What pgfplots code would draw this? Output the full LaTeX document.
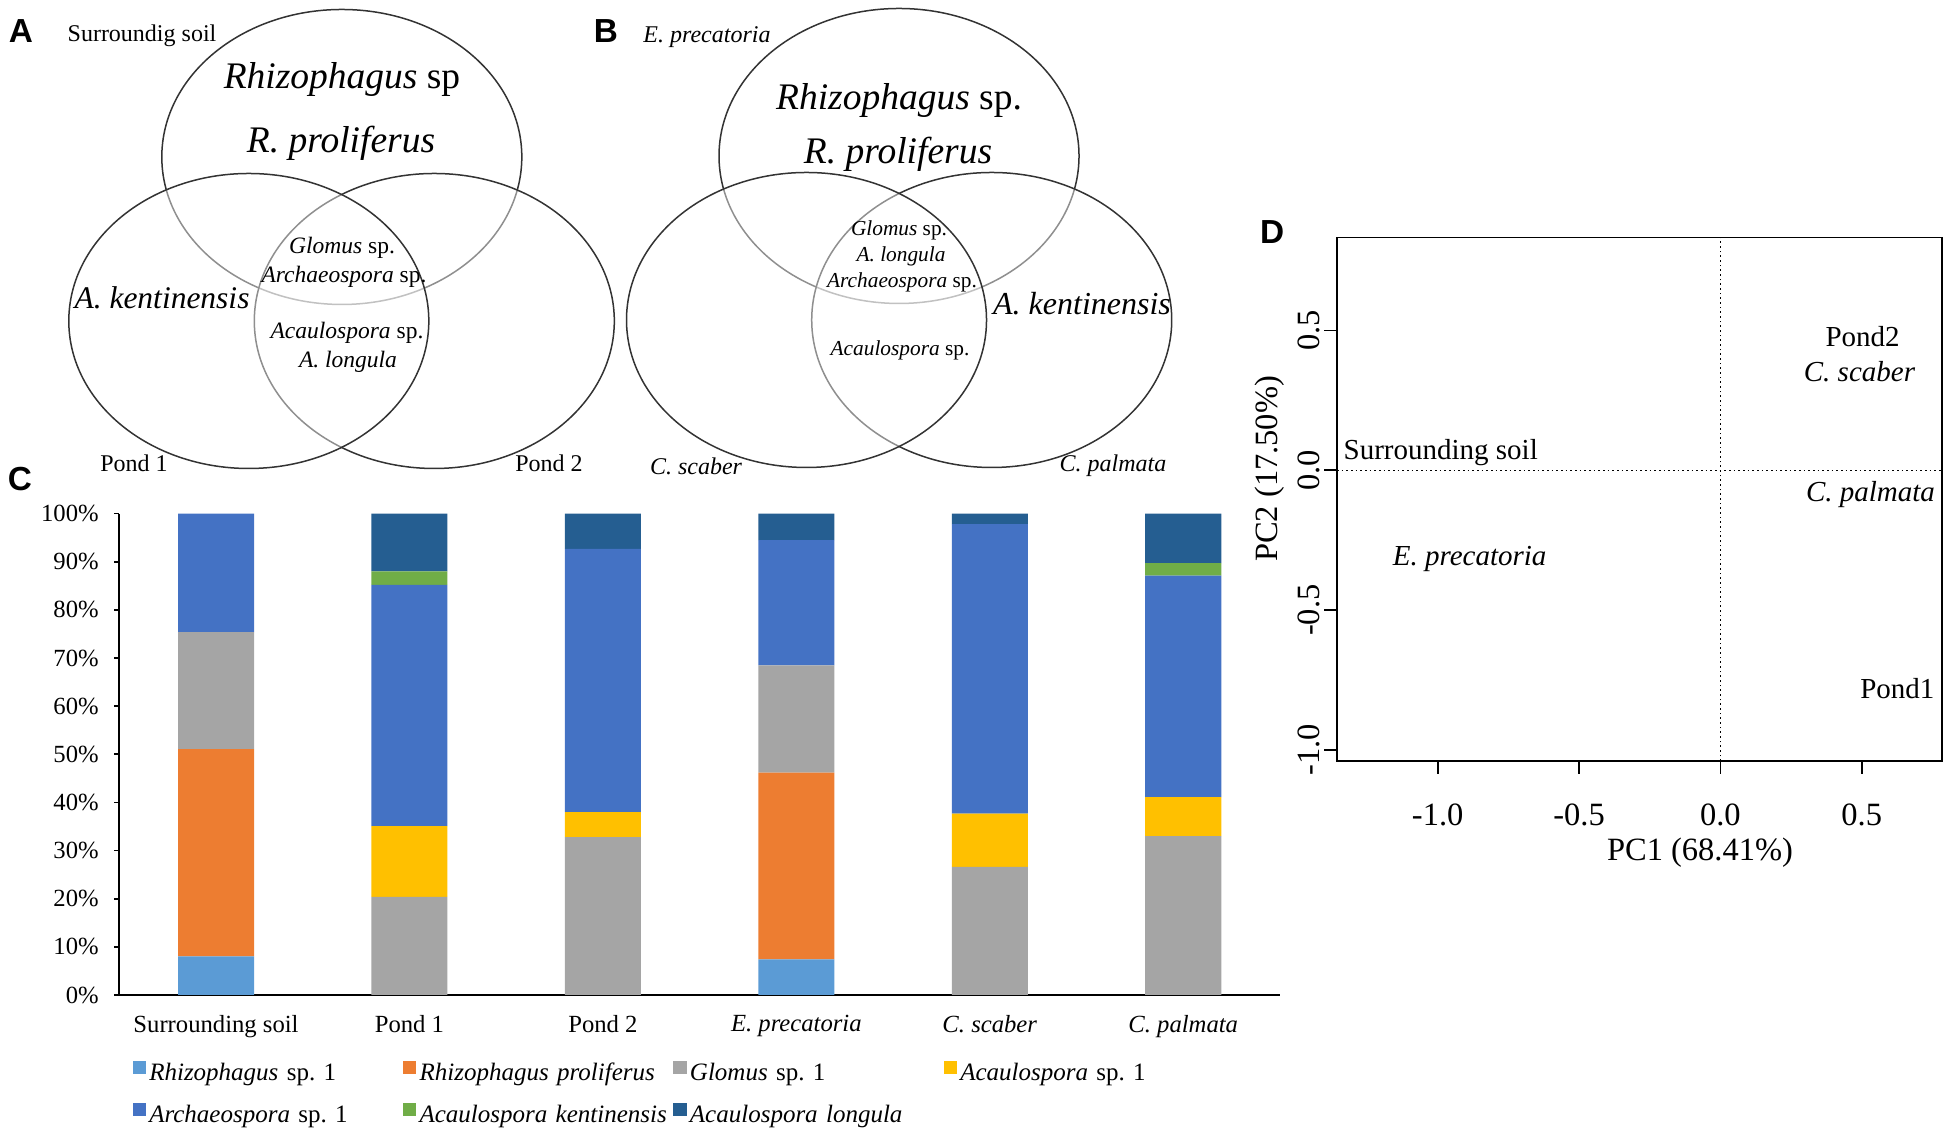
\documentclass[border=0pt]{standalone}
\usepackage{pgfplots}
\usepackage{pgfplotstable}
\pgfplotsset{compat=1.18}
\usepackage{fontspec}
\setmainfont{Liberation Serif}
\newfontfamily\arialfont{Liberation Sans}
\frenchspacing

\definecolor{cRsp}{HTML}{5B9BD5}
\definecolor{cRpro}{HTML}{ED7D31}
\definecolor{cGlo}{HTML}{A5A5A5}
\definecolor{cAca}{HTML}{FFC000}
\definecolor{cArc}{HTML}{4472C4}
\definecolor{cKen}{HTML}{70AD47}
\definecolor{cLon}{HTML}{255E91}
\definecolor{venn}{HTML}{333333}

\newcommand\fs[1]{\fontsize{#1}{#1}\selectfont}

% relative abundance (%) per sample, panel C
\pgfplotstableread{
x  rsp   rpro  glo   aca   arc   ken  lon
0  8.0   43.1  24.3  0.0   24.6  0.0  0.0
1  0.0   0.0   20.4  14.7  50.1  2.8  12.0
2  0.0   0.0   32.8  5.2   54.7  0.0  7.3
3  7.4   38.8  22.3  0.0   26.0  0.0  5.5
4  0.0   0.0   26.6  11.1  60.1  0.0  2.2
5  0.0   0.0   33.0  8.1   46.0  2.6  10.3
}\bars

\pgfplotsset{sq/.style={legend image code/.code={\fill[##1] (0pt,0.1pt) rectangle (4pt,4.1pt);}}}

\begin{document}
\begin{tikzpicture}
\useasboundingbox (0,0) rectangle (585pt,338.7pt);

% Venn diagrams (A, B), pixel coordinates from top left
\begin{scope}[x=0.3pt,y=-0.3pt,yshift=338.7pt]
  \tikzset{vc/.style={draw=venn,line width=0.45pt,fill=white,fill opacity=0.45}}
  % A
  \draw[vc] (341.8,157) ellipse (180 and 147.5);
  \draw[vc] (434.3,321) ellipse (180 and 147.5);
  \draw[vc] (248.8,321) ellipse (180 and 147.5);
  % B
  \draw[vc] (899,156) ellipse (180 and 147.5);
  \draw[vc] (991.7,320) ellipse (180 and 147.5);
  \draw[vc] (806.5,320) ellipse (180 and 147.5);

  \node[font=\fs{7.2}] at (142,36) {Surroundig soil};
  \node[font=\fs{11.25}] at (342,80) {\textit{Rhizophagus} sp};
  \node[font=\fs{11.25}\itshape] at (341,143) {R. proliferus};
  \node[font=\fs{7.05}] at (342,248) {\textit{Glomus} sp.};
  \node[font=\fs{7.05}] at (344,277) {\textit{Archaeospora} sp.};
  \node[font=\fs{9.45}\itshape] at (162,298) {A. kentinensis};
  \node[font=\fs{7.05}] at (347,333) {\textit{Acaulospora} sp.};
  \node[font=\fs{7.05}\itshape] at (348,362) {A. longula};
  \node[font=\fs{7.2}] at (134,463) {Pond 1};
  \node[font=\fs{7.2}] at (549,463) {Pond 2};

  \node[font=\fs{7.2}\itshape] at (707,37) {E. precatoria};
  \node[font=\fs{11.25}] at (899,101) {\textit{Rhizophagus} sp.};
  \node[font=\fs{11.25}\itshape] at (898,154) {R. proliferus};
  \node[font=\fs{6.4}] at (899,230) {\textit{Glomus} sp.};
  \node[font=\fs{6.4}\itshape] at (901,256) {A. longula};
  \node[font=\fs{6.4}] at (902,282) {\textit{Archaeospora} sp.};
  \node[font=\fs{9.6}\itshape] at (1082,304) {A. kentinensis};
  \node[font=\fs{6.4}] at (900,350) {\textit{Acaulospora} sp.};
  \node[font=\fs{7.2}\itshape] at (696,466) {C. scaber};
  \node[font=\fs{7.2}\itshape] at (1113,466) {C. palmata};

  \tikzset{lab/.style={font=\arialfont\bfseries\fs{10}}}
  \node[lab] at (20.8,31) {A};
  \node[lab] at (606,31) {B};
  \node[lab] at (20,479) {C};
  \node[lab] at (1272,232) {D};
\end{scope}

% C: stacked bars
\begin{axis}[
  at={(35.79pt,40.2pt)}, anchor=south west,
  scale only axis, width=348.2pt, height=144.4pt,
  ybar stacked, bar width=0.393,
  xmin=-0.5, xmax=5.5, ymin=0, ymax=100,
  axis x line*=bottom, axis y line*=left,
  axis line style={line width=0.5pt,black},
  xtick={0,...,5},
  xticklabels={Surrounding soil, Pond 1, Pond 2, \textit{E. precatoria}, \textit{C. scaber}, \textit{C. palmata}},
  xtick style={draw=none},
  ytick={0,10,...,100},
  yticklabels={0\%,10\%,20\%,30\%,40\%,50\%,60\%,70\%,80\%,90\%,100\%},
  tick align=outside, major tick length=1.5pt,
  ytick style={line width=0.5pt,black},
  tick label style={font=\fs{7.4}},
  yticklabel style={inner sep=0pt}, yticklabel shift=4.5pt,
  xticklabel style={inner sep=0pt}, xticklabel shift=4.3pt,
  legend columns=4,
  legend cell align=left,
  legend style={draw=none, fill=none, inner sep=0pt,
    at={(0.0109,-0.133)}, anchor=north west,
    nodes={inner sep=1pt, text width=75.1pt, align=left,
      text height=5.2pt, text depth=1.5pt, font=\fs{7.5}},
    /tikz/column sep=0pt, /tikz/row sep=4pt},
]
\addplot[fill=cRsp, draw=none, sq] table[x=x,y=rsp]{\bars};
\addlegendentry{\textit{Rhizophagus} sp. 1}
\addplot[fill=cRpro, draw=none, sq] table[x=x,y=rpro]{\bars};
\addlegendentry{\textit{Rhizophagus proliferus}}
\addplot[fill=cGlo, draw=none, sq] table[x=x,y=glo]{\bars};
\addlegendentry{\textit{Glomus} sp. 1}
\addplot[fill=cAca, draw=none, sq] table[x=x,y=aca]{\bars};
\addlegendentry{\textit{Acaulospora} sp. 1}
\addplot[fill=cArc, draw=none, sq] table[x=x,y=arc]{\bars};
\addlegendentry{\textit{Archaeospora} sp. 1}
\addplot[fill=cKen, draw=none, sq] table[x=x,y=ken]{\bars};
\addlegendentry{\textit{Acaulospora kentinensis}}
\addplot[fill=cLon, draw=none, sq] table[x=x,y=lon]{\bars};
\addlegendentry{\textit{Acaulospora longula}}
\end{axis}

% D: PCA
\begin{axis}[
  at={(401.1pt,110.4pt)}, anchor=south west,
  scale only axis, width=181.5pt, height=157.05pt,
  xmin=-1.356, xmax=0.784, ymin=-1.039, ymax=0.832,
  axis line style={line width=0.5pt,black},
  xtick={-1,-0.5,0,0.5}, xticklabels={-1.0,-0.5,0.0,0.5},
  ytick={-1,-0.5,0,0.5}, yticklabels={-1.0,-0.5,0.0,0.5},
  tick pos=left, tick align=outside, major tick length=3.8pt,
  tick style={line width=0.5pt,black},
  tick label style={font=\fs{9.75}},
  yticklabel style={rotate=90, anchor=south, inner sep=0pt}, yticklabel shift=1.2pt,
  xticklabel style={anchor=north, inner sep=0pt}, xticklabel shift=8.9pt,
  xlabel={PC1 (68.41\%)}, ylabel={PC2 (17.50\%)},
  label style={font=\fs{9.75}},
  xlabel style={at={(axis description cs:0.60,-0.176)}, anchor=center},
  ylabel style={at={(axis description cs:-0.1107,0.558)}, anchor=center},
  every node near coord/.append style={anchor=center, inner sep=0pt},
]
\addplot[black, line width=0.4pt, dash pattern=on 0.5pt off 0.9pt] coordinates {(0,-1.039) (0,0.832)};
\addplot[black, line width=0.4pt, dash pattern=on 0.5pt off 0.9pt] coordinates {(-1.356,0) (0.784,0)};
\addplot[draw=none, mark=none, nodes near coords, point meta=explicit symbolic,
  every node near coord/.append style={font=\fs{8.7}}]
  coordinates {(0.503,0.477) [Pond2] (-0.989,0.063) [Surrounding soil] (0.626,-0.781) [Pond1]};
\addplot[draw=none, mark=none, nodes near coords, point meta=explicit symbolic,
  every node near coord/.append style={font=\fs{8.7}\itshape}]
  coordinates {(0.492,0.353) [C. scaber] (0.531,-0.086) [C. palmata] (-0.887,-0.316) [E. precatoria]};
\end{axis}
\end{tikzpicture}
\end{document}
